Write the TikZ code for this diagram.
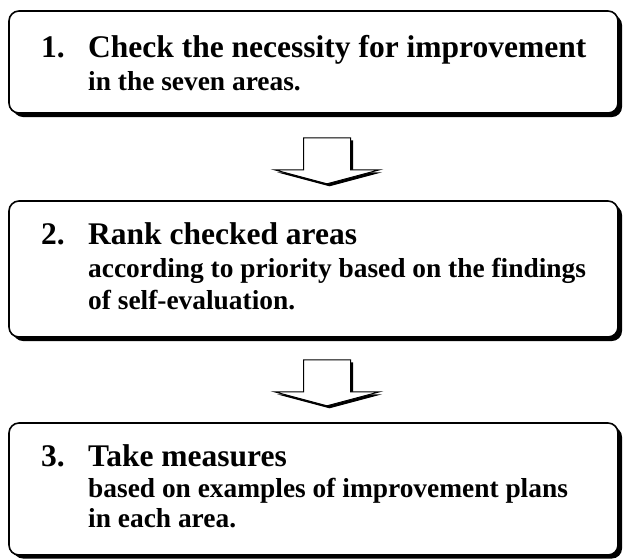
\documentclass[tikz,border=0pt]{standalone}
\usepackage{fontspec}
\setmainfont{Liberation Serif}
\usetikzlibrary{calc}
\tikzset{
  stepbox/.style={draw=black, line width=1.6pt, fill=white, rounded corners=10pt,
    minimum width=609pt, inner sep=0pt},
  boxshadow/.style={fill=black, rounded corners=10pt},
  headtxt/.style={anchor=base west, inner sep=0pt, font=\bfseries\fontsize{31.5}{31.5}\selectfont},
  subtxt/.style={anchor=base west, inner sep=0pt, font=\bfseries\fontsize{27.4}{27.4}\selectfont},
  blockarrow/.style={draw=black, line width=1pt, fill=white, line join=miter},
  arrowshadow/.style={fill=black}
}
\newcommand{\blockarrowpath}[1]{(#1) ++(-23.5,0) -- ++(0,32) -- ++(-29,0) -- ++(52.5,14) -- ++(52.5,-14) -- ++(-29,0) -- ++(0,-32) -- cycle}
\begin{document}
\begin{tikzpicture}[x=1pt,y=-1pt]
\useasboundingbox (0,0) rectangle (623,558);
% boxes
\fill[boxshadow] (13,15) rectangle (622,117);
\node[stepbox, minimum height=102pt] (b1) at (313.5,62) {};
\fill[boxshadow] (13,205) rectangle (622,341);
\node[stepbox, minimum height=136pt] (b2) at (313.5,269) {};
\fill[boxshadow] (13,427) rectangle (622,558.5);
\node[stepbox, minimum height=132pt] (b3) at (313.5,489) {};
% arrows
\coordinate (a1) at ($(b1.south)+(13.5,24)$);
\coordinate (a2) at ($(b2.south)+(13.5,22)$);
\fill[arrowshadow] ($(a1)+(2.5,2.5)$) ++(-23.5,0) -- ++(0,32) -- ++(-29,0) -- ++(52.5,14) -- ++(52.5,-14) -- ++(-29,0) -- ++(0,-32) -- cycle;
\draw[blockarrow] \blockarrowpath{a1};
\fill[arrowshadow] ($(a2)+(2.5,2.5)$) ++(-23.5,0) -- ++(0,32) -- ++(-29,0) -- ++(52.5,14) -- ++(52.5,-14) -- ++(-29,0) -- ++(0,-32) -- cycle;
\draw[blockarrow] \blockarrowpath{a2};
% texts
\node[headtxt] (n1) at (41,57) {1.};
\node[headtxt] (h1) at (88,57) {Check the necessity for improvement};
\node[subtxt] (s1) at (88,90) {in the seven areas.};
\node[headtxt] (n2) at (41,244) {2.};
\node[headtxt] (h2) at (88,244) {Rank checked areas};
\node[subtxt] (s2a) at (88,277) {according to priority based on the findings};
\node[subtxt] (s2b) at (88,309) {of self-evaluation.};
\node[headtxt] (n3) at (41,466) {3.};
\node[headtxt] (h3) at (88,466) {Take measures};
\node[subtxt] (s3a) at (88,497) {based on examples of improvement plans};
\node[subtxt] (s3b) at (88,527) {in each area.};
\end{tikzpicture}
\end{document}
